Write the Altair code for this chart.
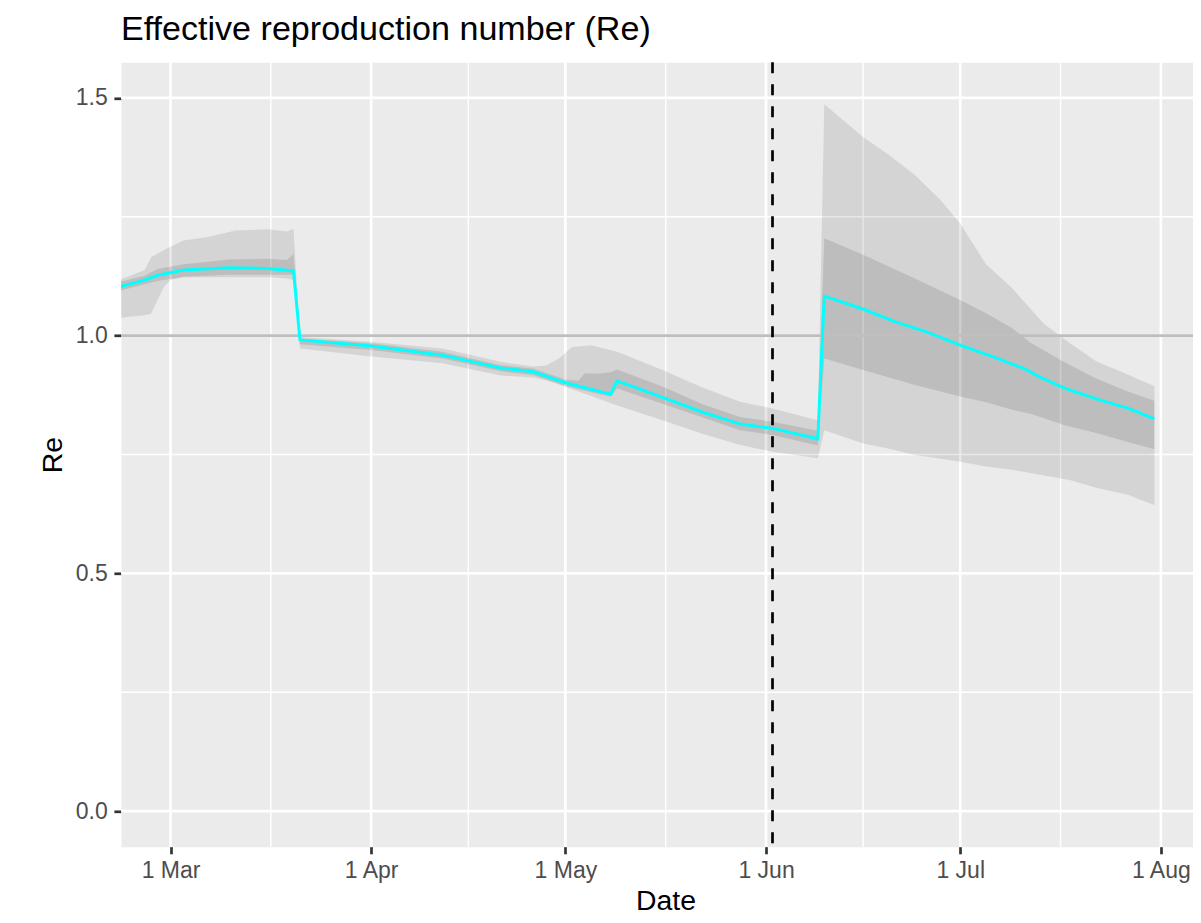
import altair as alt
import pandas as pd

# ---------------- data ----------------
line_dates = ["2020-02-22", "2020-02-26", "2020-02-28", "2020-03-03", "2020-03-10", "2020-03-16",
              "2020-03-20", "2020-03-21", "2020-04-01", "2020-04-12", "2020-04-16", "2020-04-21",
              "2020-04-26", "2020-05-01", "2020-05-08", "2020-05-09", "2020-05-16", "2020-05-22",
              "2020-05-28", "2020-06-02", "2020-06-09", "2020-06-10", "2020-06-16", "2020-06-21",
              "2020-06-26", "2020-07-01", "2020-07-06", "2020-07-11", "2020-07-13", "2020-07-17",
              "2020-07-22", "2020-07-27", "2020-07-31"]
line_re = [1.102, 1.117, 1.127, 1.138, 1.143, 1.141, 1.136, 0.991, 0.978, 0.959, 0.947, 0.932,
           0.924, 0.901, 0.877, 0.905, 0.870, 0.840, 0.814, 0.805, 0.783, 1.083, 1.056, 1.029,
           1.007, 0.980, 0.956, 0.930, 0.915, 0.890, 0.867, 0.847, 0.825]

outer_dates = ["2020-02-22", "2020-02-26", "2020-02-27", "2020-02-29", "2020-03-01", "2020-03-03",
               "2020-03-07", "2020-03-11", "2020-03-16", "2020-03-19", "2020-03-20", "2020-03-21",
               "2020-04-01", "2020-04-12", "2020-04-21", "2020-04-26", "2020-04-28", "2020-04-30",
               "2020-05-02", "2020-05-05", "2020-05-09", "2020-05-16", "2020-05-22", "2020-05-28",
               "2020-06-02", "2020-06-09", "2020-06-10", "2020-06-16", "2020-06-20", "2020-06-24",
               "2020-06-28", "2020-07-01", "2020-07-05", "2020-07-09", "2020-07-14", "2020-07-18",
               "2020-07-22", "2020-07-27", "2020-07-29", "2020-07-31"]
outer_lo = [1.037, 1.043, 1.046, 1.103, 1.117, 1.123, 1.123, 1.123, 1.123, 1.120, 1.117, 0.973,
            0.956, 0.942, 0.916, 0.912, 0.906, 0.897, 0.887, 0.873, 0.853, 0.822, 0.794, 0.770,
            0.756, 0.742, 0.801, 0.773, 0.762, 0.749, 0.741, 0.735, 0.725, 0.718, 0.706, 0.696,
            0.680, 0.665, 0.654, 0.644]
outer_hi = [1.117, 1.138, 1.165, 1.180, 1.187, 1.200, 1.208, 1.221, 1.224, 1.219, 1.225, 0.997,
            0.987, 0.973, 0.945, 0.935, 0.937, 0.952, 0.976, 0.980, 0.966, 0.928, 0.892, 0.861,
            0.847, 0.822, 1.487, 1.418, 1.380, 1.338, 1.285, 1.236, 1.150, 1.100, 1.024, 0.984,
            0.946, 0.918, 0.905, 0.894]

inner_dates = ["2020-02-22", "2020-02-26", "2020-02-28", "2020-03-03", "2020-03-10", "2020-03-16",
               "2020-03-19", "2020-03-20", "2020-03-21", "2020-04-01", "2020-04-12", "2020-04-21",
               "2020-04-26", "2020-05-01", "2020-05-03", "2020-05-04", "2020-05-06", "2020-05-08",
               "2020-05-09", "2020-05-16", "2020-05-22", "2020-05-28", "2020-06-02", "2020-06-09",
               "2020-06-10", "2020-06-16", "2020-06-24", "2020-07-01", "2020-07-05", "2020-07-09",
               "2020-07-12", "2020-07-17", "2020-07-22", "2020-07-27", "2020-07-31"]
inner_lo = [1.094, 1.108, 1.115, 1.124, 1.128, 1.128, 1.128, 1.128, 0.982, 0.970, 0.952, 0.925,
            0.917, 0.894, 0.887, 0.884, 0.878, 0.872, 0.889, 0.857, 0.829, 0.801, 0.791, 0.769,
            0.952, 0.928, 0.896, 0.872, 0.860, 0.844, 0.835, 0.812, 0.795, 0.776, 0.761]
inner_hi = [1.113, 1.126, 1.140, 1.150, 1.160, 1.162, 1.159, 1.172, 0.994, 0.984, 0.966, 0.938,
            0.931, 0.908, 0.905, 0.921, 0.920, 0.923, 0.929, 0.893, 0.857, 0.829, 0.819, 0.800,
            1.205, 1.170, 1.120, 1.075, 1.047, 1.016, 0.984, 0.945, 0.910, 0.882, 0.863]

x_major = ["2020-03-01", "2020-04-01", "2020-05-01", "2020-06-01", "2020-07-01", "2020-08-01"]
x_minor = ["2020-03-16T12:00:00Z", "2020-04-16T00:00:00Z", "2020-05-16T12:00:00Z",
           "2020-06-16T00:00:00Z", "2020-07-16T12:00:00Z"]
y_major = [0.0, 0.5, 1.0, 1.5]
y_minor = [0.25, 0.75, 1.25]
ref_level = [1.0]
ref_date = ["2020-06-02"]
x_limits = ["2020-03-01", "2020-08-01"]
y_limits = [0.0, 1.5]

# ---------------- layout ----------------
FONT = "Liberation Sans"
W, H = 1072, 784.4
FULL_W = 1089.4  # full ggplot panel width (cropped on the right in the reference)


def ms(s):
    t = pd.Timestamp(s)
    if t.tzinfo is None:
        t = t.tz_localize("UTC")
    return int(t.value // 10**6)


lo_ms, hi_ms = ms(x_limits[0]), ms(x_limits[1])
span = hi_ms - lo_ms
x_left = lo_ms - 0.05 * span
x_right = x_left + 1.1 * span * W / FULL_W
ypad = 0.05 * (y_limits[1] - y_limits[0])

xs = alt.Scale(type="utc", domain=[x_left, x_right], nice=False)
ys = alt.Scale(domain=[y_limits[0] - ypad, y_limits[1] + ypad], nice=False, zero=False)

x_axis = alt.Axis(values=[ms(d) for d in x_major],
                  labelExpr="utcFormat(datum.value, '%-d %b')",
                  grid=False, domain=False, tickColor="#333333", tickWidth=2.7, tickSize=7.1,
                  labelFont=FONT, labelFontSize=23, labelColor="#4D4D4D", labelPadding=23.5,
                  labelBaseline="alphabetic", labelFlush=False, labelOverlap=False,
                  title="Date", titleFont=FONT, titleFontSize=28.4, titleFontWeight="normal",
                  titleColor="black", titleX=544.5, titleY=62.5, titleBaseline="alphabetic",
                  titleAlign="center")
y_axis = alt.Axis(values=y_major, format=".1f", grid=False, domain=False,
                  tickColor="#333333", tickWidth=2.7, tickSize=7.1,
                  labelFont=FONT, labelFontSize=23, labelColor="#4D4D4D", labelPadding=6.6,
                  labelFlush=False, labelOverlap=False,
                  title="Re", titleFont=FONT, titleFontSize=28.4, titleFontWeight="normal",
                  titleColor="black", titleX=-59.3, titleY=H / 2, titleAngle=270,
                  titleBaseline="alphabetic", titleAlign="center")


def X(field="date"):
    return alt.X(f"{field}:T", scale=xs, axis=x_axis, title="Date")


def Y(field):
    return alt.Y(f"{field}:Q", scale=ys, axis=y_axis, title="Re")


df_line = pd.DataFrame({"date": line_dates, "re": line_re})
df_outer = pd.DataFrame({"date": outer_dates, "lo": outer_lo, "hi": outer_hi})
df_inner = pd.DataFrame({"date": inner_dates, "lo": inner_lo, "hi": inner_hi})

ygrid_minor = alt.Chart(pd.DataFrame({"re": y_minor})).mark_rule(color="white", strokeWidth=1.4).encode(y=Y("re"))
ygrid_major = alt.Chart(pd.DataFrame({"re": y_major})).mark_rule(color="white", strokeWidth=2.7).encode(y=Y("re"))
xgrid_minor = alt.Chart(pd.DataFrame({"date": x_minor})).mark_rule(color="white", strokeWidth=1.4).encode(x=X())
xgrid_major = alt.Chart(pd.DataFrame({"date": x_major})).mark_rule(color="white", strokeWidth=2.7).encode(x=X())

outer = alt.Chart(df_outer).mark_area(color="black", opacity=0.095, clip=True).encode(
    x=X(), y=Y("hi"), y2="lo:Q")
inner = alt.Chart(df_inner).mark_area(color="black", opacity=0.105, clip=True).encode(
    x=X(), y=Y("hi"), y2="lo:Q")
hline = alt.Chart(pd.DataFrame({"re": ref_level})).mark_rule(color="#BEBEBE", strokeWidth=2.7).encode(y=Y("re"))
line = alt.Chart(df_line).mark_line(color="#00FFFF", strokeWidth=3.0, clip=True).encode(x=X(), y=Y("re"))
vline = alt.Chart(pd.DataFrame({"date": ref_date})).mark_rule(
    color="black", strokeWidth=2.7, strokeDash=[11, 11]).encode(x=X())

chart = alt.layer(
    ygrid_minor, ygrid_major, xgrid_minor, xgrid_major, outer, inner, hline, line, vline
).properties(
    width=W, height=H,
    background="white",
    title=alt.TitleParams("Effective reproduction number (Re)", anchor="start", frame="group",
                          font=FONT, fontSize=34.1, fontWeight="normal", color="black",
                          baseline="alphabetic", offset=22.3, dy=35),
    autosize=alt.AutoSizeParams(type="none"),
    padding={"left": 113, "top": 54.3, "right": 0, "bottom": 68.3},
).configure_view(fill="#EBEBEB", stroke="transparent")

chart.save("out.html", embed_options={"renderer": "svg", "actions": False})
